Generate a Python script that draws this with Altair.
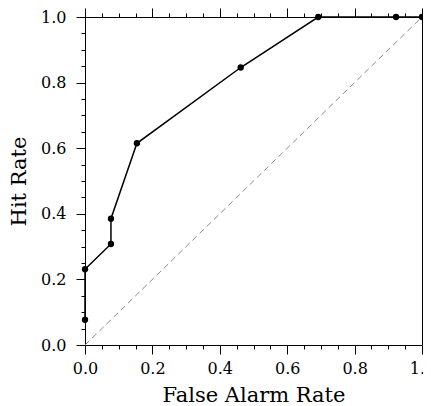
import altair as alt
import pandas as pd

far = [0.0, 0.0, 0.077, 0.077, 0.154, 0.462, 0.692, 0.923, 1.0]
hit = [0.077, 0.231, 0.308, 0.385, 0.615, 0.846, 1.0, 1.0, 1.0]
diag_x = [0.0, 1.0]
diag_y = [0.0, 1.0]

df = pd.DataFrame({"far": far, "hit": hit, "order": list(range(len(far)))})
dd = pd.DataFrame({"x": diag_x, "y": diag_y})

FONT = "DejaVu Serif"
ticks = [round(i * 0.05, 2) for i in range(21)]
major_test = "round(datum.value*100) % 20 === 0"

def ax(orient, title=None, labels=True, label_pad=10, title_pad=8):
    return alt.Axis(
        orient=orient, values=ticks, title=title, labels=labels,
        labelExpr=f"({major_test}) ? format(datum.value, '.1f') : ''",
        tickSize={"condition": {"test": major_test, "value": 9}, "value": 4},
        domainColor="black", tickColor="black", domainWidth=1, tickWidth=1,
        labelFont=FONT, labelFontSize=16, labelColor="black", labelPadding=label_pad,
        titleFont=FONT, titleFontSize=21, titleFontWeight="normal", titleColor="black",
        titlePadding=title_pad, grid=False, labelFlush=False, labelOverlap=False,
    )

xs = alt.Scale(domain=[0, 1], nice=False, zero=False)
ys = alt.Scale(domain=[0, 1], nice=False, zero=False)

diag = alt.Chart(dd).mark_line(color="#8a8a8a", strokeDash=[6, 4], strokeWidth=1).encode(
    x=alt.X("x:Q", scale=xs, axis=ax("bottom", "False Alarm Rate", label_pad=6, title_pad=8)),
    y=alt.Y("y:Q", scale=ys, axis=ax("left", "Hit Rate", label_pad=10, title_pad=11)),
)
mirror = alt.Chart(dd).mark_point(opacity=0).encode(
    x=alt.X("x:Q", scale=xs, axis=ax("top", None, labels=False)),
    y=alt.Y("y:Q", scale=ys, axis=ax("right", None, labels=False)),
)
line = alt.Chart(df).mark_line(color="black", strokeWidth=1.5).encode(
    x=alt.X("far:Q", scale=xs, axis=None), y=alt.Y("hit:Q", scale=ys, axis=None), order="order:Q"
)
pts = alt.Chart(df).mark_circle(color="black", opacity=1, size=40).encode(
    x=alt.X("far:Q", scale=xs, axis=None), y=alt.Y("hit:Q", scale=ys, axis=None)
)

chart = alt.layer(diag, mirror, line, pts).resolve_axis(x="independent", y="independent").properties(
    width=337, height=328,
    autosize=alt.AutoSizeParams(type="none"),
    padding={"left": 77, "top": 9, "right": 1, "bottom": 60},
).configure_view(stroke=None)

chart.save("out.html", embed_options={"renderer": "svg", "actions": False})
